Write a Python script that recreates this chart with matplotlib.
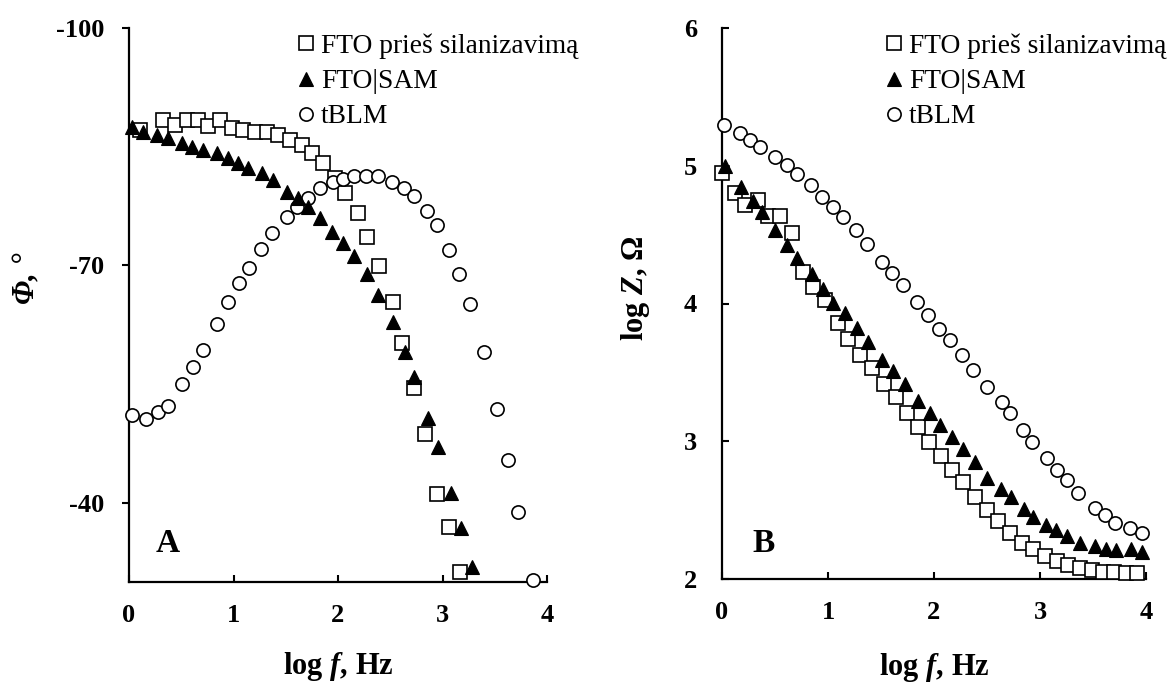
import matplotlib
matplotlib.use("Agg")
import matplotlib.pyplot as plt

plt.rcParams["font.family"] = ["Liberation Serif", "DejaVu Serif"]
plt.rcParams["axes.unicode_minus"] = False
plt.rcParams["mathtext.fontset"] = "custom"
plt.rcParams["mathtext.it"] = "Liberation Serif:italic:bold"
plt.rcParams["mathtext.rm"] = "Liberation Serif:bold"
plt.rcParams["mathtext.bf"] = "Liberation Serif:bold"

# panel A: phase angle vs log f
a_fto_x = [0.105, 0.326, 0.441, 0.556, 0.662, 0.757, 0.872, 0.988, 1.093, 1.208,
           1.323, 1.429, 1.544, 1.659, 1.755, 1.860, 1.975, 2.071, 2.196, 2.282,
           2.397, 2.522, 2.617, 2.723, 2.828, 2.943, 3.058, 3.164]
a_fto_y = [-87.1, -88.4, -87.7, -88.4, -88.4, -87.6, -88.4, -87.4, -87.1, -86.9,
           -86.9, -86.5, -85.9, -85.2, -84.2, -82.9, -81.1, -79.2, -76.6, -73.6,
           -69.9, -65.4, -60.2, -54.5, -48.7, -41.1, -37.0, -31.3]

a_sam_x = [0.029, 0.134, 0.268, 0.374, 0.508, 0.604, 0.709, 0.844, 0.949, 1.045,
           1.141, 1.275, 1.381, 1.515, 1.620, 1.716, 1.831, 1.946, 2.052, 2.157,
           2.282, 2.387, 2.522, 2.637, 2.723, 2.857, 2.953, 3.078, 3.174, 3.279]
a_sam_y = [-87.5, -86.9, -86.5, -86.1, -85.5, -85.0, -84.6, -84.2, -83.6, -82.9,
           -82.3, -81.7, -80.8, -79.3, -78.5, -77.4, -76.0, -74.2, -72.8, -71.2,
           -68.9, -66.3, -62.9, -59.0, -55.9, -50.7, -47.0, -41.3, -36.8, -31.9]

a_blm_x = [0.029, 0.163, 0.278, 0.374, 0.508, 0.614, 0.709, 0.844, 0.949, 1.055,
           1.151, 1.266, 1.371, 1.515, 1.611, 1.716, 1.831, 1.956, 2.052, 2.157,
           2.272, 2.387, 2.512, 2.627, 2.723, 2.848, 2.943, 3.058, 3.154, 3.260,
           3.394, 3.519, 3.624, 3.720, 3.864]
a_blm_y = [-51.1, -50.6, -51.5, -52.3, -55.0, -57.2, -59.3, -62.6, -65.4, -67.8,
           -69.7, -72.1, -74.1, -76.1, -77.4, -78.5, -79.8, -80.5, -80.9, -81.3,
           -81.3, -81.3, -80.5, -79.8, -78.8, -76.9, -75.1, -72.0, -68.9, -65.1,
           -59.1, -51.8, -45.4, -38.9, -30.3]

# panel B: log |Z| vs log f
b_fto_x = [0.0, 0.123, 0.217, 0.340, 0.434, 0.547, 0.660, 0.764, 0.858, 0.972,
           1.094, 1.189, 1.302, 1.415, 1.528, 1.642, 1.745, 1.849, 1.953, 2.066,
           2.170, 2.274, 2.387, 2.500, 2.604, 2.717, 2.830, 2.934, 3.047, 3.160,
           3.264, 3.377, 3.491, 3.594, 3.698, 3.811, 3.915]
b_fto_y = [4.947, 4.802, 4.715, 4.751, 4.635, 4.635, 4.512, 4.229, 4.120, 4.025,
           3.858, 3.742, 3.626, 3.532, 3.416, 3.321, 3.205, 3.103, 2.995, 2.893,
           2.791, 2.704, 2.595, 2.501, 2.421, 2.334, 2.261, 2.218, 2.167, 2.131,
           2.102, 2.080, 2.065, 2.051, 2.051, 2.044, 2.044]

b_sam_x = [0.028, 0.179, 0.292, 0.377, 0.500, 0.613, 0.708, 0.849, 0.953, 1.047,
           1.160, 1.274, 1.377, 1.509, 1.613, 1.726, 1.849, 1.962, 2.057, 2.170,
           2.274, 2.387, 2.500, 2.632, 2.726, 2.849, 2.934, 3.057, 3.151, 3.255,
           3.377, 3.519, 3.623, 3.717, 3.858, 3.962]
b_sam_y = [4.998, 4.846, 4.744, 4.664, 4.534, 4.425, 4.330, 4.214, 4.105, 4.004,
           3.931, 3.822, 3.721, 3.590, 3.510, 3.416, 3.292, 3.205, 3.118, 3.031,
           2.944, 2.850, 2.733, 2.653, 2.595, 2.508, 2.450, 2.392, 2.356, 2.312,
           2.261, 2.240, 2.218, 2.211, 2.218, 2.196]

b_blm_x = [0.019, 0.170, 0.264, 0.358, 0.500, 0.613, 0.708, 0.840, 0.943, 1.047,
           1.142, 1.264, 1.368, 1.509, 1.604, 1.708, 1.840, 1.943, 2.047, 2.151,
           2.264, 2.368, 2.500, 2.642, 2.717, 2.840, 2.925, 3.066, 3.160, 3.255,
           3.358, 3.519, 3.613, 3.708, 3.849, 3.962]
b_blm_y = [5.296, 5.238, 5.187, 5.136, 5.063, 5.005, 4.940, 4.860, 4.773, 4.701,
           4.628, 4.534, 4.432, 4.301, 4.221, 4.134, 4.011, 3.917, 3.815, 3.735,
           3.626, 3.517, 3.394, 3.285, 3.205, 3.082, 2.995, 2.878, 2.791, 2.719,
           2.624, 2.515, 2.465, 2.407, 2.370, 2.334]

labels = ["FTO prieš silanizavimą", "FTO|SAM", "tBLM"]


def draw_series(ax, fto, sam, blm):
    ax.plot(*fto, ls="none", marker="s", ms=9.5, mfc="white", mec="black",
            mew=1.2, label=labels[0], clip_on=False, zorder=3)
    ax.plot(*sam, ls="none", marker="^", ms=10.5, mfc="black", mec="black",
            mew=0.8, label=labels[1], clip_on=False, zorder=4)
    ax.plot(*blm, ls="none", marker="o", ms=9.5, mfc="white", mec="black",
            mew=1.2, label=labels[2], clip_on=False, zorder=3)


def style_axes(ax, ydir, legend_x):
    for s in ["top", "right"]:
        ax.spines[s].set_visible(False)
    for s in ["left", "bottom"]:
        ax.spines[s].set_linewidth(1.6)
    ax.tick_params(axis="x", direction="in", length=5, width=1.5, pad=16,
                   labelsize=19)
    ax.tick_params(axis="y", direction=ydir, length=5, width=1.5,
                   pad=13 if ydir == "out" else 18, labelsize=19)
    for lab in ax.get_xticklabels() + ax.get_yticklabels():
        lab.set_fontweight("bold")
    ax.legend(loc="upper left", frameon=False, fontsize=19.8, handlelength=0.7,
              handletextpad=0.2, labelspacing=0.36, borderpad=0,
              borderaxespad=0, bbox_to_anchor=(legend_x, 0.99))


fig = plt.figure(figsize=(11.7, 6.82), dpi=100)
axA = fig.add_axes([129 / 1170, 1 - 582 / 682, 418 / 1170, 554 / 682])
axB = fig.add_axes([722 / 1170, 1 - 579 / 682, 424 / 1170, 551 / 682])

draw_series(axA, (a_fto_x, a_fto_y), (a_sam_x, a_sam_y), (a_blm_x, a_blm_y))
axA.set_xlim(0, 4)
axA.set_ylim(-30, -100)
axA.set_xticks([0, 1, 2, 3, 4])
axA.set_yticks([-100, -70, -40])
style_axes(axA, "out", 0.40)
axA.set_xlabel(r"log $f$, Hz", fontsize=22, fontweight="bold", va="center")
axA.xaxis.set_label_coords(0.5, -0.153)
axA.set_ylabel("Φ, °", fontsize=22, fontweight="bold", fontstyle="italic",
               va="center")
axA.yaxis.set_label_coords(-0.244, 0.549)
axA.text(0.093, 0.07, "A", transform=axA.transAxes, fontsize=24,
         fontweight="bold", ha="center", va="center")

draw_series(axB, (b_fto_x, b_fto_y), (b_sam_x, b_sam_y), (b_blm_x, b_blm_y))
axB.set_xlim(0, 4)
axB.set_ylim(2, 6)
axB.set_xticks([0, 1, 2, 3, 4])
axB.set_yticks([2, 3, 4, 5, 6])
style_axes(axB, "in", 0.382)
axB.set_xlabel(r"log $f$, Hz", fontsize=22, fontweight="bold", va="center")
axB.xaxis.set_label_coords(0.5, -0.160)
axB.set_ylabel(r"log $Z$, Ω", fontsize=22, fontweight="bold", va="center")
axB.yaxis.set_label_coords(-0.205, 0.528)
axB.text(0.099, 0.065, "B", transform=axB.transAxes, fontsize=24,
         fontweight="bold", ha="center", va="center")

fig.savefig("out.png", dpi=100)
